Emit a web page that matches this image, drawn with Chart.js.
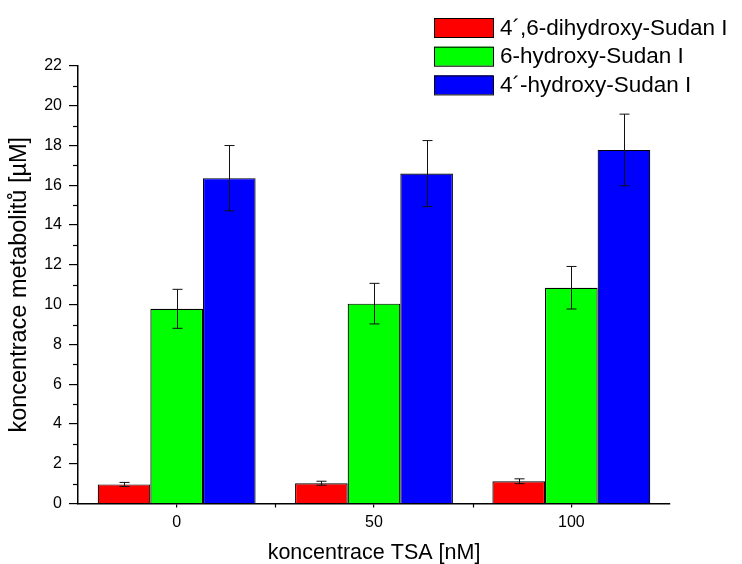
<!DOCTYPE html>
<html>
<head>
<meta charset="utf-8">
<script src="https://cdn.jsdelivr.net/npm/chart.js@4"></script>
<style>
  html, body { margin: 0; padding: 0; background: #fff; }
  #wrap { width: 742px; height: 564px; }
</style>
</head>
<body>
<div id="wrap"><canvas id="tsaChart" width="742" height="564"></canvas></div>
<script>
// data
const categories = ['0', '50', '100'];
const seriesNames = ['4\u00B4,6-dihydroxy-Sudan I', '6-hydroxy-Sudan I', '4\u00B4-hydroxy-Sudan I'];
const dihydroxy = [0.96, 1.02, 1.12];
const dihydroxyErr = [0.1, 0.1, 0.12];
const hydroxy6 = [9.79, 10.05, 10.85];
const hydroxy6Err = [0.98, 1.02, 1.07];
const hydroxy4 = [16.36, 16.59, 17.78];
const hydroxy4Err = [1.64, 1.66, 1.8];
const yTicks = [0, 2, 4, 6, 8, 10, 12, 14, 16, 18, 20, 22];

const FONT = 'Liberation Sans, Arial, sans-serif';

// error bars, drawn through the y scale
const errorBars = {
  id: 'errorBars',
  afterDatasetsDraw(chart) {
    const ctx = chart.ctx;
    const y = chart.scales.y;
    ctx.save();
    ctx.strokeStyle = '#111';
    ctx.lineWidth = 1;
    chart.data.datasets.forEach((ds, di) => {
      const meta = chart.getDatasetMeta(di);
      meta.data.forEach((bar, i) => {
        const v = ds.data[i], e = ds.errors[i];
        const top = y.getPixelForValue(v + e);
        const bot = y.getPixelForValue(v - e);
        const x = Math.round(bar.x) + 0.5;
        ctx.beginPath();
        ctx.moveTo(x, top); ctx.lineTo(x, bot);
        ctx.moveTo(x - 5, top); ctx.lineTo(x + 5, top);
        ctx.moveTo(x - 5, bot); ctx.lineTo(x + 5, bot);
        ctx.stroke();
      });
    });
    ctx.restore();
  }
};

// minor ticks on y, boundary ticks on x, and the legend box
const extras = {
  id: 'extras',
  afterDraw(chart) {
    const ctx = chart.ctx;
    const y = chart.scales.y, x = chart.scales.x;
    const area = chart.chartArea;
    ctx.save();
    ctx.strokeStyle = '#000';
    ctx.lineWidth = 1.2;
    for (let i = 0; i < yTicks.length - 1; i++) {
      const py = Math.round(y.getPixelForValue((yTicks[i] + yTicks[i + 1]) / 2)) + 0.5;
      ctx.beginPath();
      ctx.moveTo(area.left - 5, py); ctx.lineTo(area.left, py);
      ctx.stroke();
    }
    for (let i = 0; i < categories.length - 1; i++) {
      const px = Math.round((x.getPixelForValue(i) + x.getPixelForValue(i + 1)) / 2) + 0.5;
      ctx.beginPath();
      ctx.moveTo(px, area.bottom); ctx.lineTo(px, area.bottom + 4);
      ctx.stroke();
    }

    // legend
    const lx = 434, ly = 18, rowH = 28.7, bw = 59, bh = 19;
    ctx.font = '22.5px ' + FONT;
    ctx.textBaseline = 'middle';
    ctx.fillStyle = '#000';
    chart.data.datasets.forEach((ds, i) => {
      const top = ly + i * rowH;
      ctx.fillStyle = ds.backgroundColor;
      ctx.fillRect(lx, top, bw, bh);
      ctx.lineWidth = 1;
      ctx.strokeStyle = '#000';
      ctx.strokeRect(lx + 0.5, top + 0.5, bw, bh);
      ctx.fillStyle = '#000';
      ctx.fillText(ds.label, lx + 66, top + bh / 2 + 1);
    });
    ctx.restore();
  }
};

const datasets = [
  { label: seriesNames[0], data: dihydroxy, errors: dihydroxyErr, backgroundColor: '#ff0000' },
  { label: seriesNames[1], data: hydroxy6, errors: hydroxy6Err, backgroundColor: '#00ff00' },
  { label: seriesNames[2], data: hydroxy4, errors: hydroxy4Err, backgroundColor: '#0000ff' }
].map(d => Object.assign(d, {
  borderColor: '#000',
  borderWidth: 1.2,
  borderSkipped: 'bottom',
  categoryPercentage: 0.8,
  barPercentage: 1.0
}));

new Chart(document.getElementById('tsaChart').getContext('2d'), {
  type: 'bar',
  data: { labels: categories, datasets: datasets },
  options: {
    responsive: false,
    animation: false,
    maintainAspectRatio: false,
    layout: { padding: { left: 0, right: 72, top: 66, bottom: 0 } },
    plugins: { legend: { display: false }, tooltip: { enabled: false } },
    scales: {
      x: {
        offset: true,
        grid: { display: true, offset: false, drawOnChartArea: false, drawTicks: true, tickLength: 4, color: '#000', lineWidth: 1.2 },
        border: { display: true, color: '#000', width: 1.5 },
        ticks: { color: '#000', font: { family: FONT, size: 16 }, padding: 5, maxRotation: 0 },
        title: { display: true, text: 'koncentrace TSA [nM]', color: '#000', font: { family: FONT, size: 21.5, lineHeight: 1 }, padding: { top: 0, bottom: 0 } },
        afterFit(s) { s.height = 60.5; }
      },
      y: {
        min: 0,
        max: 22,
        afterBuildTicks(s) { s.ticks = yTicks.map(v => ({ value: v })); },
        grid: { display: true, drawOnChartArea: false, drawTicks: true, tickLength: 9, color: '#000', lineWidth: 1.2 },
        border: { display: true, color: '#000', width: 1.5 },
        ticks: { color: '#000', font: { family: FONT, size: 16 }, padding: 7 },
        title: { display: true, text: 'koncentrace metabolitů [µM]', color: '#000', font: { family: FONT, size: 23.5, lineHeight: 1 }, padding: { top: 8, bottom: 0 } },
        afterFit(s) { s.width = 78; }
      }
    }
  },
  plugins: [errorBars, extras]
});
</script>
</body>
</html>
